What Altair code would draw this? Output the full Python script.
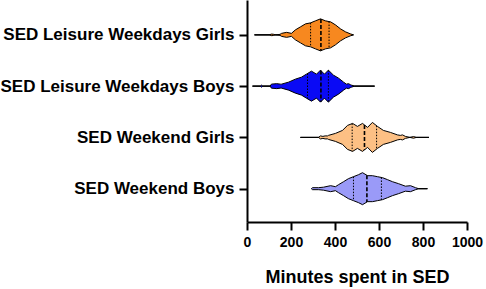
import altair as alt
import pandas as pd
import numpy as np

groups = ["SED Leisure Weekdays Girls", "SED Leisure Weekdays Boys",
          "SED Weekend Girls", "SED Weekend Boys"]
colors = ["#F7881F", "#0A0AF5", "#FDC084", "#9A9AF8"]

# violin profiles: minutes and half-width (relative density)
lwg_min = [34, 100, 112, 120, 128, 150, 157, 180, 202, 220, 243, 266, 289, 311, 334, 357, 380, 402, 425, 448, 470, 484]
lwg_den = [0, 0, 0.8, 0.6, 0, 0.5, 1.5, 2.5, 1.5, 5, 8, 11, 12, 14, 16, 14, 13, 10, 6, 3, 1, 0]

lwb_min = [25, 60, 66, 72, 105, 111, 135, 152, 157, 189, 220, 248, 270, 293, 316, 334, 352, 370, 393, 416, 439, 452, 461, 470, 475, 490, 580]
lwb_den = [0, 0, 1, 0, 0, 2, 2.5, 2, 2, 4, 7, 9, 12, 15, 12, 16, 12, 16, 11, 8, 4, 2, 2.5, 1.5, 1, 0, 0]

weg_min = [243, 325, 334, 345, 355, 366, 370, 402, 434, 457, 480, 502, 525, 548, 570, 593, 620, 652, 684, 697, 707, 720, 740, 757, 770, 827]
weg_den = [0, 0, 1.5, 1, 1.5, 1.5, 2, 4, 7, 12, 14, 11, 14, 10, 15, 11, 7, 5, 2.5, 2, 2.5, 1, 0, 0.8, 0, 0]

web_min = [293, 298, 325, 348, 380, 402, 416, 439, 461, 484, 507, 525, 548, 570, 593, 616, 639, 661, 689, 720, 743, 766, 780, 820]
web_den = [0, 1, 1, 1.5, 3, 2, 4, 7, 10, 12, 14, 16, 13, 13, 12, 11, 9, 7, 5, 2.5, 3, 1, 0, 0]

q1 = [289, 275, 478, 484]
med = [336, 336, 534, 545]
q3 = [373, 370, 589, 611]
mins = [34, 25, 243, 293]
maxs = [484, 580, 827, 820]

profiles_min = [lwg_min, lwb_min, weg_min, web_min]
profiles_den = [lwg_den, lwb_den, weg_den, web_den]

SCALE = 1 / 51.3  # density unit -> category unit

rows = []
for i, g in enumerate(groups):
    for m, d in zip(profiles_min[i], profiles_den[i]):
        rows.append({"group": g, "minutes": m, "lo": i - d * SCALE, "hi": i + d * SCALE})
violin = pd.DataFrame(rows)

qrows = []
for i, g in enumerate(groups):
    for kind, v in (("q", q1[i]), ("m", med[i]), ("q", q3[i])):
        h = float(np.interp(v, profiles_min[i], profiles_den[i])) * SCALE
        qrows.append({"group": g, "kind": kind, "minutes": v, "lo": i - h, "hi": i + h})
quart = pd.DataFrame(qrows)

span = pd.DataFrame({"group": groups, "mn": mins, "mx": maxs, "c": list(range(len(groups)))})

label_expr = " : ".join(
    [f"datum.value == {i} ? '{g}'" for i, g in enumerate(groups)]) + " : ''"

FONT = "Liberation Sans"

yscale = alt.Scale(domain=[-0.68, 3.65], reverse=True, nice=False, zero=False)
xscale = alt.Scale(domain=[0, 1000], nice=False)

xaxis = alt.Axis(values=[0, 200, 400, 600, 800, 1000], format="d", title="Minutes spent in SED",
                 grid=False, domainColor="black", domainWidth=2, tickColor="black",
                 tickWidth=2, tickSize=8, labelFont=FONT, labelFontWeight="bold",
                 labelFontSize=14, labelColor="black", labelPadding=5,
                 titleFont=FONT, titleFontWeight="bold", titleFontSize=18,
                 titleColor="black", titlePadding=19, labelFlush=False)
yaxis = alt.Axis(values=[0, 1, 2, 3], labelExpr=label_expr, title=None, grid=False,
                 domainColor="black", domainWidth=2, tickColor="black", tickWidth=2,
                 tickSize=8, labelFont=FONT, labelFontWeight="bold", labelFontSize=17,
                 labelColor="black", labelPadding=5, labelFlush=False, labelLimit=0)

color = alt.Color("group:N", scale=alt.Scale(domain=groups, range=colors), legend=None)

base_line = alt.Chart(span).mark_rule(color="black", strokeWidth=1).encode(
    x=alt.X("mn:Q", scale=xscale, axis=xaxis),
    x2="mx:Q",
    y=alt.Y("c:Q", scale=yscale, axis=yaxis),
)

areas = alt.Chart(violin).mark_area(stroke="black", strokeWidth=1, interpolate="linear",
                                    opacity=1).encode(
    x=alt.X("minutes:Q", scale=xscale, axis=xaxis),
    y=alt.Y("lo:Q", scale=yscale, axis=yaxis),
    y2="hi:Q",
    color=color,
    detail="group:N",
)

medians = alt.Chart(quart).transform_filter("datum.kind == 'm'").mark_rule(
    color="black", strokeWidth=1.6, strokeDash=[4, 2]).encode(
    x="minutes:Q", y="lo:Q", y2="hi:Q")

quarts = alt.Chart(quart).transform_filter("datum.kind == 'q'").mark_rule(
    color="black", strokeWidth=1, strokeDash=[1.5, 1.5]).encode(
    x="minutes:Q", y="lo:Q", y2="hi:Q")

chart = alt.layer(base_line, areas, medians, quarts).properties(
    width=220, height=222,
    autosize=alt.AutoSizeParams(type="none"),
    padding={"left": 247, "top": 0, "right": 19, "bottom": 67},
    background="white",
).configure_view(stroke=None)

chart.save("out.html", embed_options={"renderer": "svg", "actions": False})
